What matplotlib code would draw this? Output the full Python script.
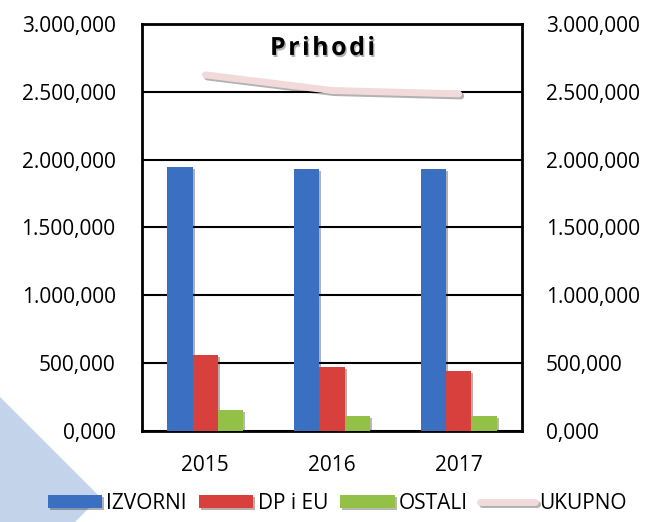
import matplotlib.pyplot as plt
import matplotlib.patheffects as pe
from matplotlib.patches import Polygon
from matplotlib.ticker import FuncFormatter
import numpy as np

# values in thousands
years = ['2015', '2016', '2017']
izvorni = [1946, 1930, 1930]
dp_eu = [560, 472, 442]
ostali = [155, 110, 110]
ukupno = [2625, 2510, 2485]

plt.rcParams['font.family'] = ['Open Sans', 'DejaVu Sans']


def fmt(v, pos):
    s = f"{v:,.3f}"
    return s.replace(',', 'X').replace('.', ',').replace('X', '.')


fig = plt.figure(figsize=(6.48, 5.22), dpi=100)

# decorative triangle bottom-left
tri = Polygon([(0, 125 / 522), (100 / 648, 25 / 522), (75 / 648, 0), (0, 0)],
              closed=True, transform=fig.transFigure, facecolor='#c2d3ea',
              edgecolor='none', zorder=0)
fig.patches.append(tri)

ax = fig.add_axes([142 / 648, 91 / 522, 380 / 648, 407 / 522])
ax.set_facecolor('none')

x = np.arange(len(years))
w = 0.2
shadow = [pe.SimplePatchShadow(offset=(1.5, -1.5), alpha=0.35), pe.Normal()]
b1 = ax.bar(x - w, izvorni, w, color='#3a6fc2', label='IZVORNI', zorder=3, path_effects=shadow)
b2 = ax.bar(x, dp_eu, w, color='#d8403d', label='DP i EU', zorder=3, path_effects=shadow)
b3 = ax.bar(x + w, ostali, w, color='#93c047', label='OSTALI', zorder=3, path_effects=shadow)
ln, = ax.plot(x, ukupno, color='#f2dada', lw=5, solid_capstyle='round', label='UKUPNO', zorder=4,
              path_effects=[pe.SimpleLineShadow(offset=(1.5, -1.5), alpha=0.3), pe.Normal()])

ax.set_xlim(-0.5, 2.5)
ax.set_ylim(0, 3000)
ax.set_yticks(np.arange(0, 3001, 500))
ax.yaxis.set_major_formatter(FuncFormatter(fmt))
ax.yaxis.grid(True, color='black', lw=1.5, zorder=1)
ax.set_xticks(x)
ax.set_xticklabels(years)
ax.tick_params(axis='both', length=0, labelsize=15, pad=19)
ax.tick_params(axis='x', pad=17)
for s in ax.spines.values():
    s.set_linewidth(2)

ax2 = ax.twinx()
ax2.set_ylim(0, 3000)
ax2.set_yticks(np.arange(0, 3001, 500))
ax2.yaxis.set_major_formatter(FuncFormatter(fmt))
ax2.tick_params(axis='y', length=0, labelsize=15, pad=17)
for s in ax2.spines.values():
    s.set_visible(False)

ax.text(0.475, 0.94, '\u200a'.join('Prihodi'), transform=ax.transAxes, ha='center', va='center',
        fontsize=18, fontweight='bold', zorder=5,
        path_effects=[pe.withSimplePatchShadow(offset=(1, -1.5), alpha=0.3)])

fig.legend([b1, b2, b3, ln], ['IZVORNI', 'DP i EU', 'OSTALI', 'UKUPNO'],
           loc='lower center', bbox_to_anchor=(0.52, -0.02), ncol=4,
           frameon=False, fontsize=15, handlelength=2.6, handleheight=0.6,
           handletextpad=0.2, columnspacing=0.6)

fig.savefig('out.png', dpi=100)
